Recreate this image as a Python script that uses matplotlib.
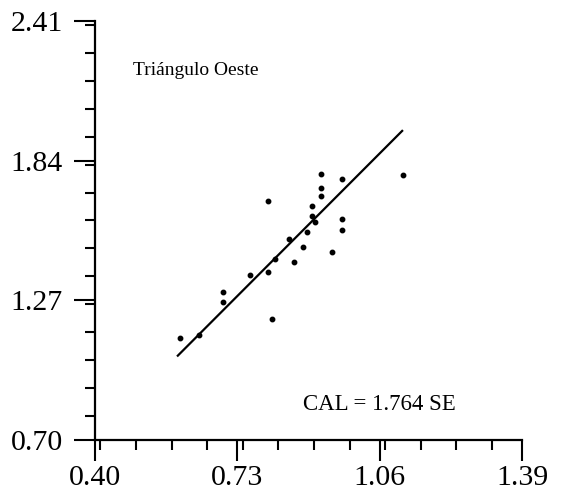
import numpy as np
import matplotlib.pyplot as plt
from matplotlib.ticker import MultipleLocator

# Scatter values (SE vs CAL)
se = [0.597, 0.641, 0.697, 0.697, 0.759, 0.800, 0.800, 0.810, 0.817, 0.850,
      0.861, 0.882, 0.892, 0.902, 0.902, 0.910, 0.923, 0.924, 0.924, 0.950,
      0.973, 0.973, 0.973, 1.113]
cal = [1.117, 1.128, 1.303, 1.262, 1.372, 1.387, 1.677, 1.193, 1.437, 1.519,
       1.428, 1.486, 1.550, 1.615, 1.656, 1.591, 1.786, 1.730, 1.696, 1.468,
       1.766, 1.602, 1.556, 1.783]

slope = 1.764
fit_range = [0.592, 1.112]

x_ticks = [0.40, 0.73, 1.06, 1.39]
y_ticks = [0.70, 1.27, 1.84, 2.41]

plt.rcParams['font.family'] = ['Liberation Serif', 'DejaVu Serif']

fig = plt.figure(figsize=(5.62, 5.03), dpi=100)
ax = fig.add_axes([0.169, 0.1252, 0.760, 0.833])

ax.plot(se, cal, 'o', color='black', markersize=3.2, clip_on=False)
fx = np.array(fit_range)
ax.plot(fx, slope * fx, color='black', linewidth=1.6)

ax.set_xlim(x_ticks[0], x_ticks[-1])
ax.set_ylim(y_ticks[0], y_ticks[-1])
ax.set_xticks(x_ticks)
ax.set_yticks(y_ticks)
ax.set_xticklabels([f'{v:.2f}' for v in x_ticks])
ax.set_yticklabels([f'{v:.2f}' for v in y_ticks])
ax.xaxis.set_minor_locator(MultipleLocator(0.0825))
ax.yaxis.set_minor_locator(MultipleLocator(0.114))

for s in ['top', 'right']:
    ax.spines[s].set_visible(False)
for s in ['left', 'bottom']:
    ax.spines[s].set_linewidth(1.6)

ax.tick_params(which='major', direction='out', length=15, width=1.5,
               labelsize=21.5)
ax.tick_params(which='minor', direction='out', length=7.5, width=1.5)
ax.tick_params(axis='x', which='major', pad=3)
ax.tick_params(axis='y', which='major', pad=8)

ax.text(0.488, 2.190, 'Triángulo Oeste', fontsize=14, ha='left', va='baseline')
ax.text(0.882, 0.822, 'CAL = 1.764 SE', fontsize=16.5, ha='left', va='baseline')

fig.savefig('out.png', dpi=100)
